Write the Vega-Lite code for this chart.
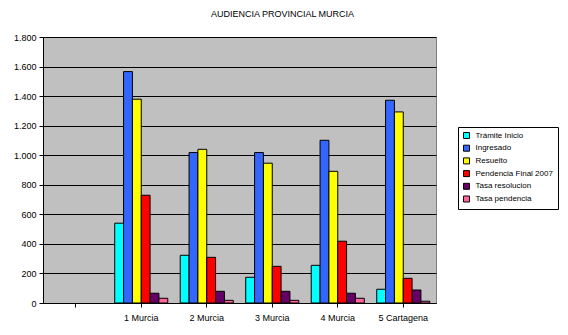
{
  "$schema": "https://vega.github.io/schema/vega-lite/v6.json",
  "autosize": {"type": "none"},
  "width": 393,
  "height": 266,
  "padding": {"left": 43, "top": 37, "right": 132, "bottom": 32},
  "background": "white",
  "config": {
    "font": "Liberation Sans",
    "view": {"fill": "#C0C0C0", "stroke": "#808080", "strokeWidth": 1}
  },
  "title": {
    "text": "AUDIENCIA PROVINCIAL MURCIA",
    "fontSize": 9,
    "fontWeight": "normal",
    "font": "Liberation Sans",
    "color": "black",
    "anchor": "middle",
    "dx": 43,
    "offset": 14
  },
  "data": {
    "values": [
      {"cat": "1 Murcia", "serie": "Trámite Inicio", "valor": 540},
      {"cat": "1 Murcia", "serie": "Ingresado", "valor": 1566},
      {"cat": "1 Murcia", "serie": "Resuelto", "valor": 1379},
      {"cat": "1 Murcia", "serie": "Pendencia Final 2007", "valor": 729},
      {"cat": "1 Murcia", "serie": "Tasa resolucion", "valor": 66},
      {"cat": "1 Murcia", "serie": "Tasa pendencia", "valor": 32},
      {"cat": "2 Murcia", "serie": "Trámite Inicio", "valor": 323},
      {"cat": "2 Murcia", "serie": "Ingresado", "valor": 1018},
      {"cat": "2 Murcia", "serie": "Resuelto", "valor": 1040},
      {"cat": "2 Murcia", "serie": "Pendencia Final 2007", "valor": 309},
      {"cat": "2 Murcia", "serie": "Tasa resolucion", "valor": 79},
      {"cat": "2 Murcia", "serie": "Tasa pendencia", "valor": 18},
      {"cat": "3 Murcia", "serie": "Trámite Inicio", "valor": 174},
      {"cat": "3 Murcia", "serie": "Ingresado", "valor": 1018},
      {"cat": "3 Murcia", "serie": "Resuelto", "valor": 946},
      {"cat": "3 Murcia", "serie": "Pendencia Final 2007", "valor": 248},
      {"cat": "3 Murcia", "serie": "Tasa resolucion", "valor": 79},
      {"cat": "3 Murcia", "serie": "Tasa pendencia", "valor": 18},
      {"cat": "4 Murcia", "serie": "Trámite Inicio", "valor": 255},
      {"cat": "4 Murcia", "serie": "Ingresado", "valor": 1101},
      {"cat": "4 Murcia", "serie": "Resuelto", "valor": 891},
      {"cat": "4 Murcia", "serie": "Pendencia Final 2007", "valor": 418},
      {"cat": "4 Murcia", "serie": "Tasa resolucion", "valor": 66},
      {"cat": "4 Murcia", "serie": "Tasa pendencia", "valor": 32},
      {"cat": "5 Cartagena", "serie": "Trámite Inicio", "valor": 93},
      {"cat": "5 Cartagena", "serie": "Ingresado", "valor": 1372},
      {"cat": "5 Cartagena", "serie": "Resuelto", "valor": 1293},
      {"cat": "5 Cartagena", "serie": "Pendencia Final 2007", "valor": 167},
      {"cat": "5 Cartagena", "serie": "Tasa resolucion", "valor": 88},
      {"cat": "5 Cartagena", "serie": "Tasa pendencia", "valor": 12}
    ]
  },
  "mark": {"type": "bar", "stroke": "black", "strokeWidth": 1},
  "encoding": {
    "x": {
      "field": "cat",
      "type": "nominal",
      "scale": {"domain": [" ", "1 Murcia", "2 Murcia", "3 Murcia", "4 Murcia", "5 Cartagena"], "paddingInner": 0.19, "paddingOuter": 0.095},
      "axis": {
        "title": null,
        "labelAngle": 0,
        "labelFontSize": 9,
        "labelColor": "black",
        "domainColor": "black",
        "tickColor": "black",
        "tickSize": 4,
        "labelPadding": 6
      }
    },
    "xOffset": {
      "field": "serie",
      "type": "nominal",
      "sort": ["Trámite Inicio", "Ingresado", "Resuelto", "Pendencia Final 2007", "Tasa resolucion", "Tasa pendencia"],
      "scale": {"paddingInner": 0, "paddingOuter": 0}
    },
    "y": {
      "field": "valor",
      "type": "quantitative",
      "scale": {"domain": [0, 1800], "nice": false},
      "axis": {
        "title": null,
        "values": [0, 200, 400, 600, 800, 1000, 1200, 1400, 1600, 1800],
        "labelExpr": "replace(format(datum.value, ','), ',', '.')",
        "labelFontSize": 9,
        "labelColor": "black",
        "domainColor": "black",
        "tickColor": "black",
        "tickSize": 4,
        "gridColor": "black",
        "gridOpacity": 1,
        "labelPadding": 3
      }
    },
    "color": {
      "field": "serie",
      "type": "nominal",
      "sort": ["Trámite Inicio", "Ingresado", "Resuelto", "Pendencia Final 2007", "Tasa resolucion", "Tasa pendencia"],
      "scale": {
        "domain": ["Trámite Inicio", "Ingresado", "Resuelto", "Pendencia Final 2007", "Tasa resolucion", "Tasa pendencia"],
        "range": ["#00FFFF", "#3366FF", "#FFFF00", "#FF0000", "#660066", "#FF6699"]
      },
      "legend": {
        "title": null,
        "orient": "none",
        "legendX": 415,
        "legendY": 90,
        "symbolType": "square",
        "symbolSize": 36,
        "symbolStrokeColor": "black",
        "symbolStrokeWidth": 1,
        "symbolOffset": 0,
        "labelOffset": 5,
        "labelFontSize": 8,
        "labelColor": "black",
        "rowPadding": 2.7,
        "padding": 4.5,
        "strokeColor": "black",
        "fillColor": "white"
      }
    }
  }
}
